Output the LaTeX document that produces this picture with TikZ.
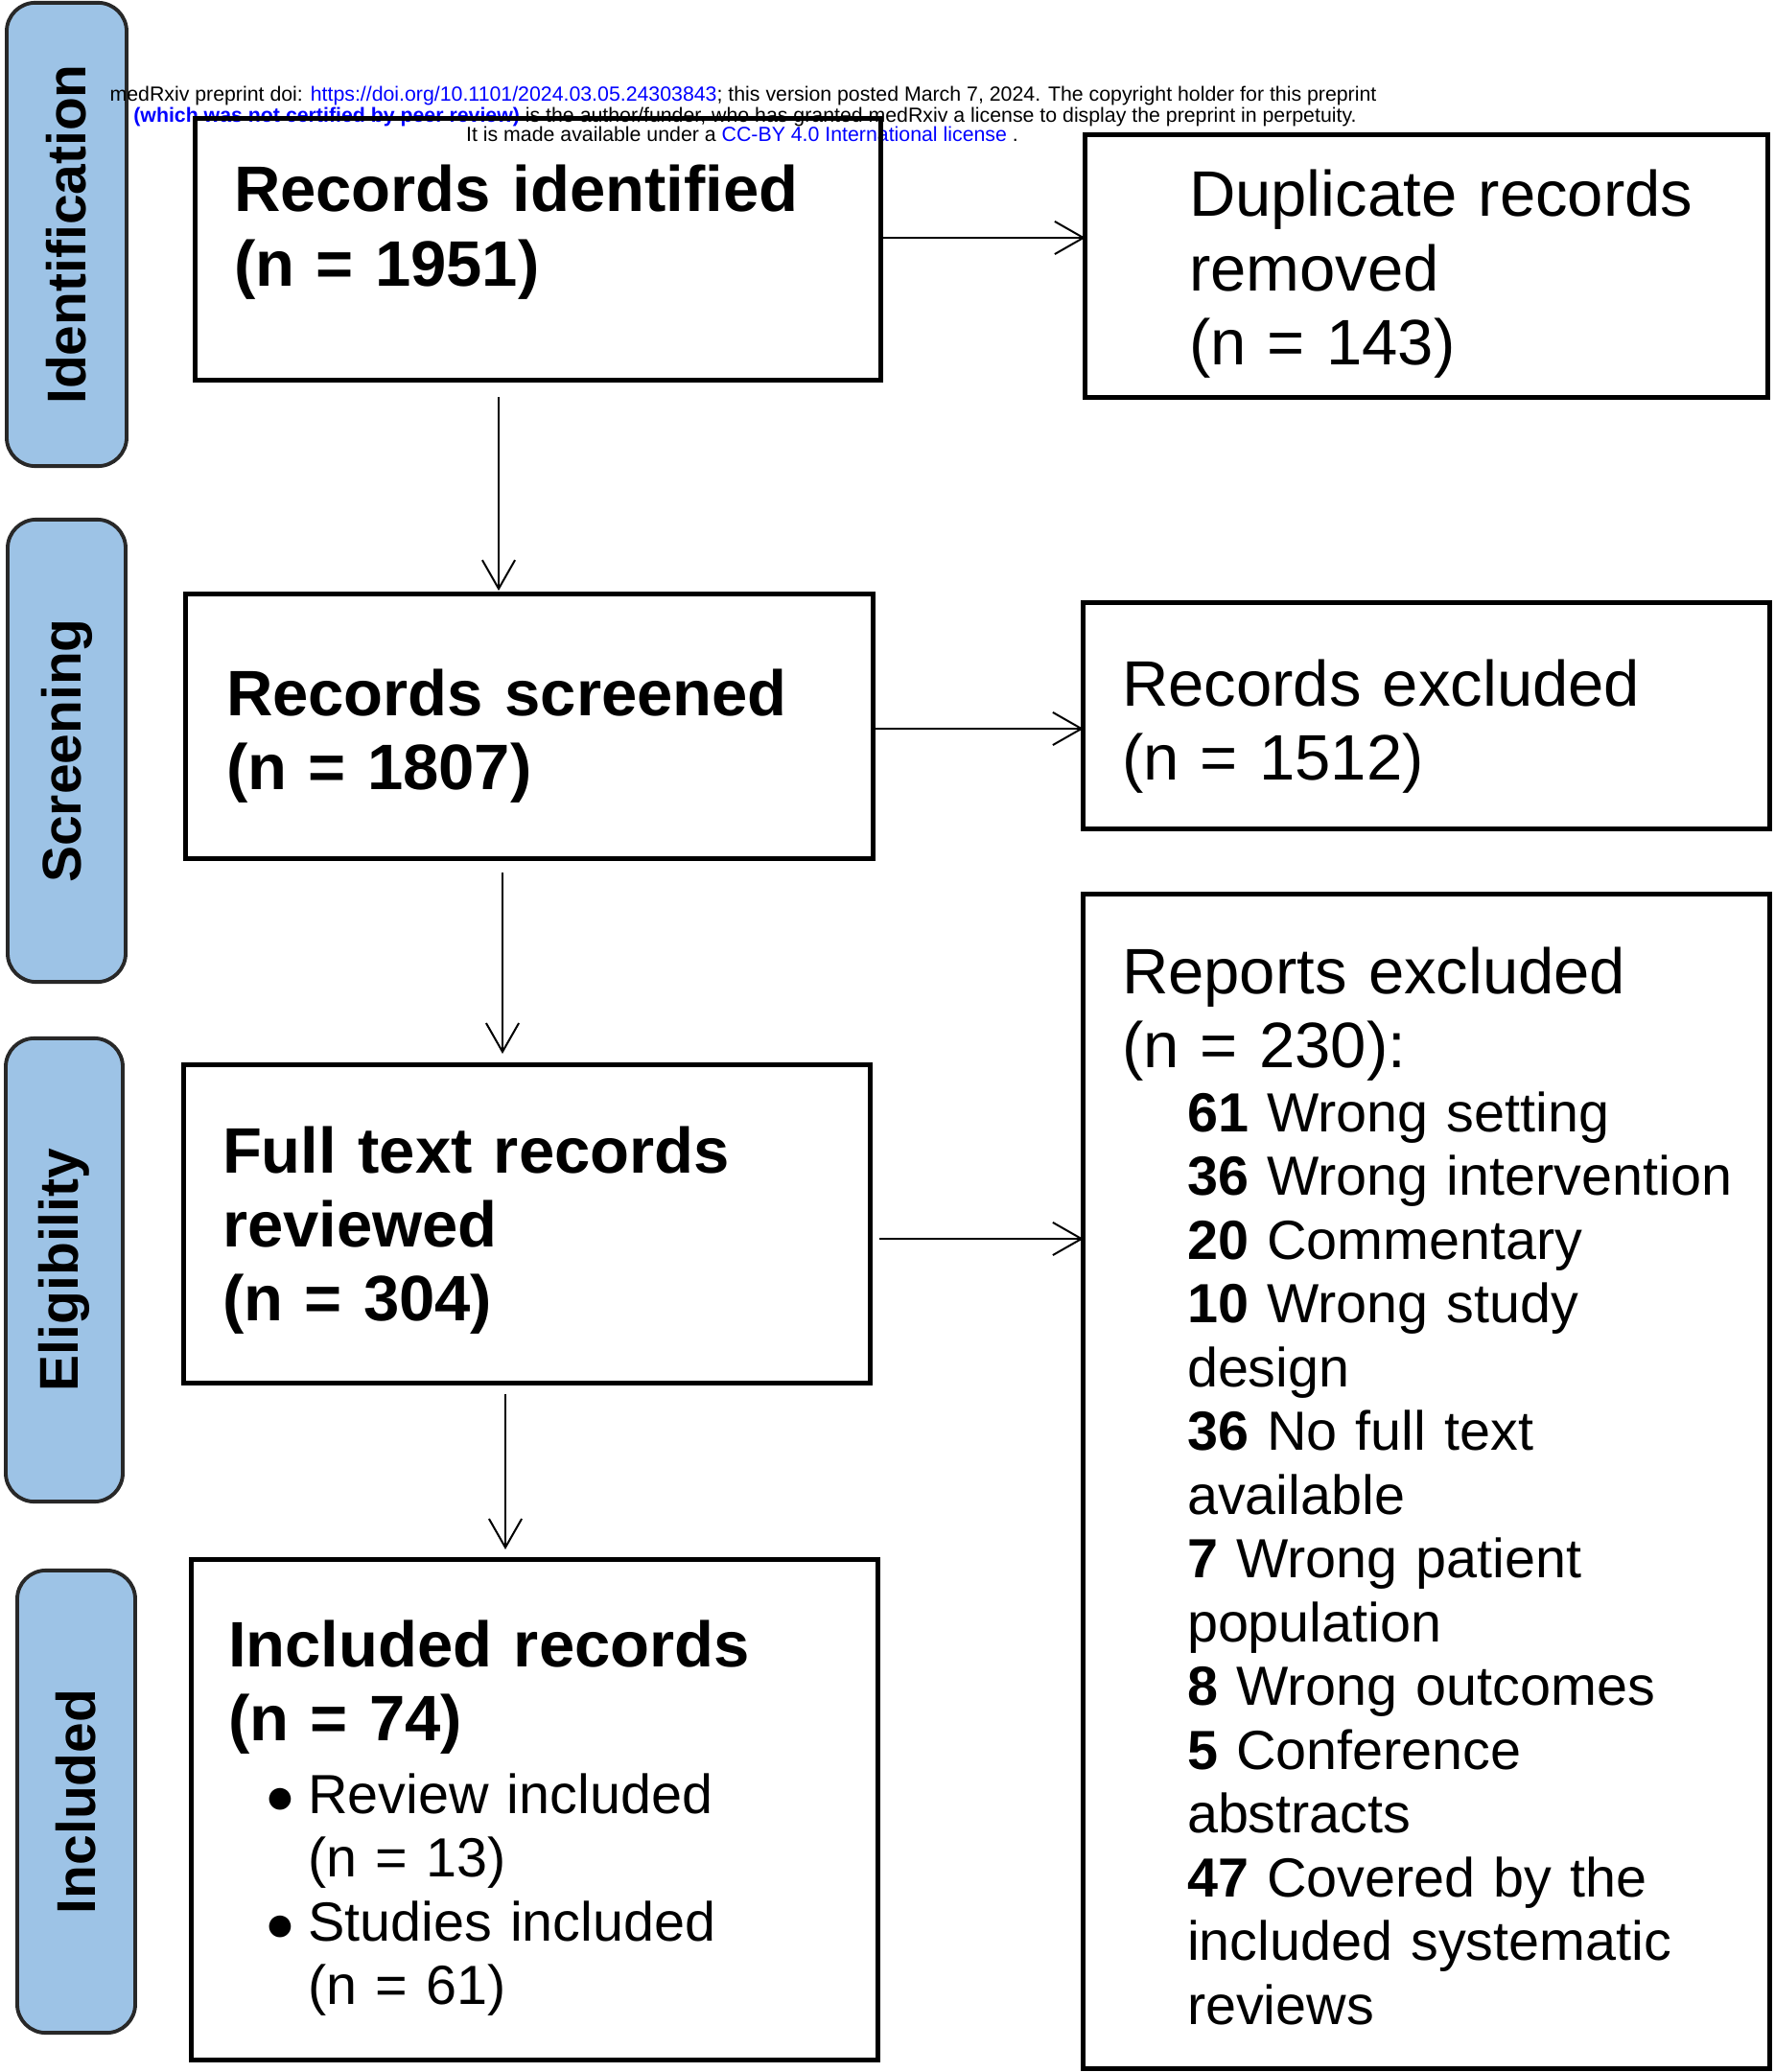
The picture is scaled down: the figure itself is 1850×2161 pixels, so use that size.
\documentclass[tikz,border=0pt]{standalone}
\usepackage{fontspec}
\setmainfont{Liberation Sans}
\usetikzlibrary{arrows.meta}
\definecolor{phasefill}{RGB}{157,195,230}
\definecolor{phaseline}{RGB}{40,40,40}
\definecolor{hblue}{RGB}{0,0,255}
\newcommand{\bigfont}{\fontsize{19.06pt}{22pt}\selectfont}
\newcommand{\smallfont}{\fontsize{16.36pt}{18.92pt}\selectfont}
\newcommand{\hdfont}{\fontsize{6.06pt}{6.1pt}\selectfont}
\newcommand{\mybullet}{\makebox[0.39cm][l]{\hspace{-0.06cm}{\fontsize{15pt}{15pt}\selectfont ●}}}
\begin{document}
\begin{tikzpicture}[x=0.01cm,y=-0.01cm,
 box/.style={draw, line width=1.42pt, inner sep=0pt, outer sep=0pt},
 phase/.style={draw=phaseline, fill=phasefill, line width=1.1pt, rounded corners=8.5pt, rotate=90, inner sep=0pt, font=\bfseries\fontsize{16.2pt}{18pt}\selectfont},
 txt/.style={inner sep=0pt, outer sep=0pt, text width=7cm, align=left, anchor=base west},
 hd/.style={inner sep=0pt, anchor=base, font=\hdfont},
 arr/.style={-{Straight Barb[length=8.5pt,width=9.7pt]}, line width=0.57pt}]
\useasboundingbox (0,0) rectangle (1850,2161);

% phase labels
\node[phase, minimum width=4.83cm, minimum height=1.25cm] (pid) at (69.5,244.5) {Identification};
\node[phase, minimum width=4.82cm, minimum height=1.23cm] (pscr) at (69.5,783) {Screening};
\node[phase, minimum width=4.83cm, minimum height=1.22cm] (pelg) at (67,1324.5) {Eligibility};
\node[phase, minimum width=4.82cm, minimum height=1.23cm] (pinc) at (79.5,1879) {Included};

% header
\node[hd] (hd1) at (775,106) {medRxiv preprint doi: \textcolor{hblue}{https://doi.org/10.1101/2024.03.05.24303843}; this version posted March 7, 2024. The copyright holder for this preprint};
\node[hd] (hd2) at (777,128) {\textcolor{hblue}{\bfseries (which was not certified by peer review)} is the author/funder, who has granted medRxiv a license to display the preprint in perpetuity.};
\node[hd] (hd3) at (774,148) {It is made available under a \textcolor{hblue}{CC-BY 4.0 International license} .};

% boxes
\node[box, minimum width=7.14cm, minimum height=2.72cm] (ident) at (561,260) {};
\node[box, minimum width=7.11cm, minimum height=2.73cm] (dup) at (1487.5,277.5) {};
\node[box, minimum width=7.16cm, minimum height=2.75cm] (screen) at (552,757.5) {};
\node[box, minimum width=7.15cm, minimum height=2.35cm] (excl) at (1487.5,746.5) {};
\node[box, minimum width=7.15cm, minimum height=3.31cm] (full) at (549.5,1276.5) {};
\node[box, minimum width=7.15cm, minimum height=12.24cm] (rep) at (1487.5,1545) {};
\node[box, minimum width=7.15cm, minimum height=5.21cm] (incl) at (557.5,1887.5) {};

% texts
\node[txt, font=\bigfont\bfseries] (identT) at (244,221) {Records identified\\(n = 1951)};
\node[txt, font=\bigfont] (dupT) at (1240,226) {Duplicate records\\removed\\(n = 143)};
\node[txt, font=\bigfont\bfseries] (screenT) at (236,746) {Records screened\\(n = 1807)};
\node[txt, font=\bigfont] (exclT) at (1170,736) {Records excluded\\(n = 1512)};
\node[txt, font=\bigfont\bfseries] (fullT) at (232,1223) {Full text records\\reviewed\\(n = 304)};
\node[txt, font=\bigfont] (repT) at (1170,1036) {Reports excluded\\(n = 230):};
\node[txt, font=\smallfont] (repL) at (1238,1180) {\textbf{61} Wrong setting\\
\textbf{36} Wrong intervention\\
\textbf{20} Commentary\\
\textbf{10} Wrong study\\
design\\
\textbf{36} No full text\\
available\\
\textbf{7} Wrong patient\\
population\\
\textbf{8} Wrong outcomes\\
\textbf{5} Conference\\
abstracts\\
\textbf{47} Covered by the\\
included systematic\\
reviews};
\node[txt, font=\bigfont\bfseries] (inclT) at (238,1738) {Included records\\(n = 74)};
\node[txt, font=\smallfont] (inclL) at (282,1891) {\mybullet Review included\\
\hspace*{0.39cm}(n = 13)\\
\mybullet Studies included\\
\hspace*{0.39cm}(n = 61)};

% connector levels
\coordinate (h1) at (0,248);
\coordinate (h2) at (0,760);
\coordinate (h3) at (0,1292);
\coordinate (v1) at (520,0);
\coordinate (v2) at (524,0);
\coordinate (v3) at (527,0);

\draw[arr] (ident.east |- h1) -- (dup.west |- h1);
\draw[arr] (screen.east |- h2) -- (excl.west |- h2);
\draw[arr, shorten <=2.8pt] (full.east |- h3) -- (rep.west |- h3);
\draw[arr, shorten <=5.1pt, shorten >=1.1pt] (ident.south -| v1) -- (screen.north -| v1);
\draw[arr, shorten <=4.3pt, shorten >=3.4pt] (screen.south -| v2) -- (full.north -| v2);
\draw[arr, shorten <=3.4pt, shorten >=3.1pt] (full.south -| v3) -- (incl.north -| v3);
\end{tikzpicture}
\end{document}
